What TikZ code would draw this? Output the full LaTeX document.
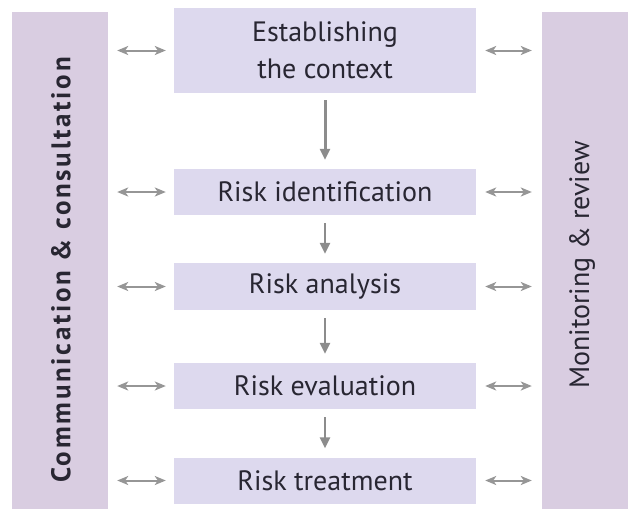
\documentclass[tikz,border=0pt]{standalone}
\usepackage{fontspec}
\setmainfont{PT Sans}
\newfontfamily\widebold[LetterSpace=10]{PT Sans}
\usetikzlibrary{arrows.meta}
\definecolor{boxfill}{RGB}{221,217,238}
\definecolor{barfill}{RGB}{217,205,225}
\definecolor{arrgray}{RGB}{140,140,140}
\definecolor{linkgray}{RGB}{150,150,150}
\definecolor{txt}{RGB}{40,38,50}
\begin{document}
\begin{tikzpicture}[x=1pt,y=-1pt,
  stepbox/.style={fill=boxfill,draw=none,minimum width=302pt,minimum height=46pt,inner sep=0pt,
    text=txt,font=\fontsize{28}{37}\selectfont,align=center},
  sidebar/.style={fill=barfill,draw=none,inner sep=0pt,text=txt},
  flowarrow/.style={draw=arrgray,line width=2.6pt,-{Triangle[length=11pt,width=10pt]}},
  linkarrow/.style={draw=linkgray,line width=2pt,{Stealth[length=11pt,width=9pt,inset=3pt]}-{Stealth[length=11pt,width=9pt,inset=3pt]}}]
\useasboundingbox (0,0) rectangle (628,509);
% side bars
\node[sidebar,minimum width=96pt,minimum height=497pt] (comm) at (60,260.5) {};
\node[sidebar,minimum width=86pt,minimum height=497pt] (mon) at (585,260.5) {};
\node[rotate=90,text=txt,font=\widebold\fontsize{27}{30}\selectfont\bfseries] (commtxt) at (61,270) {Communication \& consultation};
\node[rotate=90,text=txt,font=\fontsize{28}{30}\selectfont] (montxt) at (582,265) {Monitoring \& review};
% step boxes
\node[stepbox,minimum height=85pt] (s1) at (325,50.5) {Establishing\\the context};
\node[stepbox] (s2) at (325,192) {Risk identification};
\node[stepbox,minimum height=47pt] (s3) at (325,286.5) {Risk analysis};
\node[stepbox] (s4) at (325,386) {Risk evaluation};
\node[stepbox] (s5) at (325,480.5) {Risk treatment};
% flow arrows
\draw[flowarrow,line width=3pt,shorten <=7pt,shorten >=9pt] (s1) -- (s2);
\draw[flowarrow,shorten <=8pt,shorten >=9pt] (s2) -- (s3);
\draw[flowarrow,shorten <=8pt,shorten >=9pt] (s3) -- (s4);
\draw[flowarrow,shorten <=8pt,shorten >=9pt] (s4) -- (s5);
% link arrows
\foreach \s in {s1,s2,s3,s4,s5}{
  \draw[linkarrow,shorten <=9pt,shorten >=8pt] (\s.west -| comm.east) -- (\s.west);
  \draw[linkarrow,shorten <=9pt,shorten >=10pt] (\s.east) -- (\s.east -| mon.west);
}
\end{tikzpicture}
\end{document}
